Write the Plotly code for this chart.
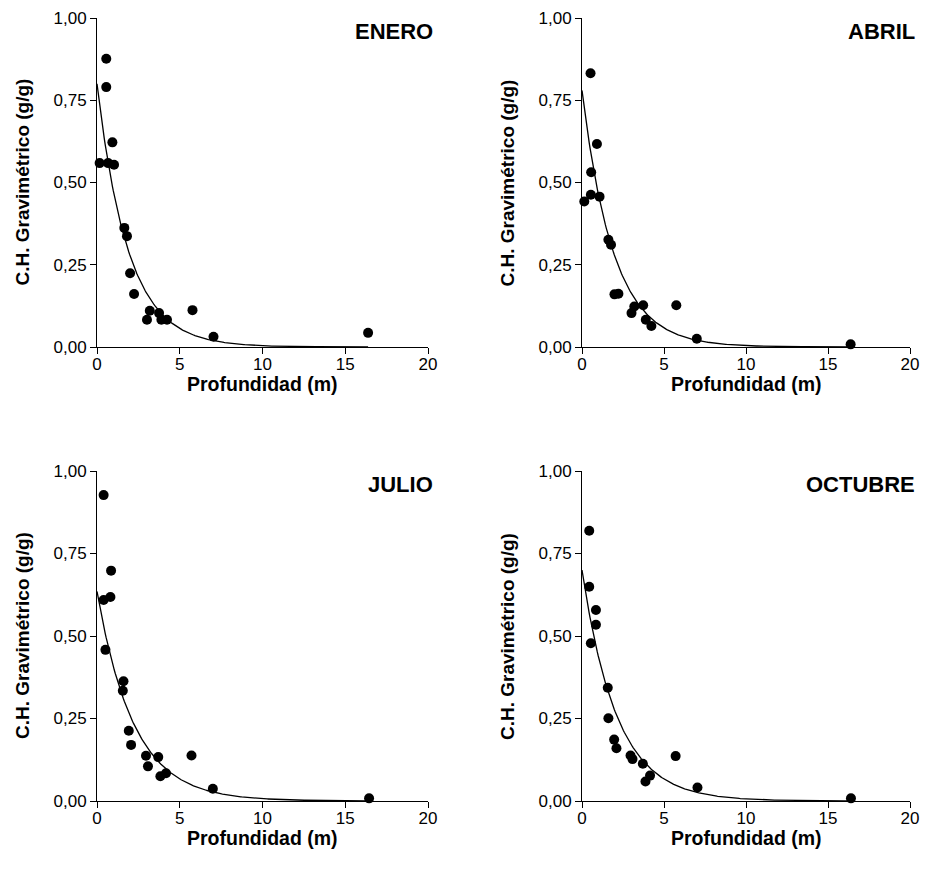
import numpy as np
import plotly.graph_objects as go

# ---------------- data ----------------
months = ["ENERO", "ABRIL", "JULIO", "OCTUBRE"]

enero_depth = [0.16, 0.56, 0.56, 0.67, 0.93, 1.03, 1.65, 1.81, 2.0, 2.24, 3.02, 3.19, 3.75, 3.89, 4.23, 5.77, 7.04, 16.38]
enero_ch = [0.559, 0.876, 0.79, 0.559, 0.622, 0.554, 0.362, 0.337, 0.224, 0.161, 0.083, 0.11, 0.103, 0.083, 0.083, 0.112, 0.031, 0.043]

abril_depth = [0.14, 0.52, 0.54, 0.56, 0.91, 1.07, 1.61, 1.77, 1.98, 2.22, 3.02, 3.19, 3.73, 3.89, 4.23, 5.75, 7.0, 16.38]
abril_ch = [0.442, 0.832, 0.463, 0.531, 0.617, 0.457, 0.326, 0.311, 0.16, 0.162, 0.103, 0.123, 0.127, 0.083, 0.064, 0.127, 0.025, 0.008]

julio_depth = [0.40, 0.40, 0.51, 0.81, 0.85, 1.56, 1.60, 1.92, 2.06, 2.96, 3.08, 3.70, 3.83, 4.17, 5.71, 7.0, 16.44]
julio_ch = [0.927, 0.609, 0.458, 0.618, 0.698, 0.334, 0.363, 0.213, 0.170, 0.137, 0.105, 0.133, 0.075, 0.084, 0.138, 0.037, 0.008]

octubre_depth = [0.44, 0.44, 0.54, 0.85, 0.85, 1.57, 1.61, 1.96, 2.10, 2.96, 3.08, 3.71, 3.87, 4.15, 5.71, 7.04, 16.4]
octubre_ch = [0.819, 0.649, 0.478, 0.579, 0.534, 0.343, 0.251, 0.186, 0.160, 0.138, 0.127, 0.113, 0.059, 0.077, 0.136, 0.041, 0.008]

# exponential fit y = a * exp(-b * x), parameters
fit_a = [0.80, 0.78, 0.635, 0.70]
fit_b = [0.53, 0.52, 0.45, 0.47]

x_ticks = [0, 5, 10, 15, 20]
y_ticks = [0.0, 0.25, 0.5, 0.75, 1.0]

x_title = "Profundidad (m)"
y_title = "C.H. Gravimétrico (g/g)"

depths = [enero_depth, abril_depth, julio_depth, octubre_depth]
values = [enero_ch, abril_ch, julio_ch, octubre_ch]

# ---------------- layout ----------------
W, H = 925, 876
FONT = "Liberation Sans, Arial, sans-serif"

# plot-area edges in pixels
x_px = [[97, 428], [582, 910]]
y_px = [[18, 347], [471, 801]]
x_domains = [[a / W, b / W] for a, b in x_px]
y_domains = [[(H - b) / H, (H - a) / H] for a, b in y_px]

fig = go.Figure()

for i in range(4):
    r, c = divmod(i, 2)
    ax = "" if i == 0 else str(i + 1)
    xa, ya = "x" + ax, "y" + ax
    xs = np.linspace(0, max(depths[i]), 300)
    fig.add_trace(go.Scatter(
        x=xs, y=fit_a[i] * np.exp(-fit_b[i] * xs),
        mode="lines", line=dict(color="black", width=1.3),
        xaxis=xa, yaxis=ya, showlegend=False, hoverinfo="skip", cliponaxis=False))
    fig.add_trace(go.Scatter(
        x=depths[i], y=values[i], mode="markers",
        marker=dict(color="black", size=10),
        xaxis=xa, yaxis=ya, showlegend=False, cliponaxis=False))

    common = dict(showgrid=False, zeroline=False, showline=True, linecolor="black", linewidth=1,
                  ticks="outside", ticklen=6, tickcolor="black", tickwidth=1, automargin=False,
                  tickfont=dict(family=FONT, size=17, color="black"))
    fig.layout["xaxis" + ax] = dict(domain=x_domains[c], anchor=ya, range=[0, 20],
                                    tickvals=x_ticks, ticklabelstandoff=-4, **common)
    fig.layout["yaxis" + ax] = dict(domain=y_domains[r], anchor=xa, range=[0, 1],
                                    tickvals=y_ticks, tickformat=".2f", **common)

    # panel title
    fig.add_annotation(
        text="<b>%s</b>" % months[i], xref=xa + " domain", yref=ya + " domain",
        x=1.022, y=0.96, xanchor="right", yanchor="middle", showarrow=False,
        font=dict(family=FONT, size=22, color="black"))
    # x-axis title
    fig.add_annotation(
        text="<b>%s</b>" % x_title, xref="paper", yref="paper",
        x=(x_px[c][0] + x_px[c][1]) / 2 / W, y=(H - (y_px[r][1] + 37)) / H,
        xanchor="center", yanchor="middle", showarrow=False,
        font=dict(family=FONT, size=19.5, color="black"))
    # y-axis title
    fig.add_annotation(
        text="<b>%s</b>" % y_title, xref="paper", yref="paper", textangle=-90,
        x=(x_px[c][0] - 75) / W, y=(H - (y_px[r][0] + y_px[r][1]) / 2) / H,
        xanchor="center", yanchor="middle", showarrow=False,
        font=dict(family=FONT, size=19, color="black"))

fig.update_layout(
    width=W, height=H, margin=dict(l=0, r=0, t=0, b=0),
    paper_bgcolor="white", plot_bgcolor="white", separators=",.",
    font=dict(family=FONT, color="black"))

# remove the page's default body margin and scrollbars so the figure fills the window
page_js = ("document.body.style.margin='0';"
           "document.documentElement.style.overflow='hidden';"
           "document.body.style.overflow='hidden';")
fig.write_html("out.html", post_script=page_js, config={"displayModeBar": False})
